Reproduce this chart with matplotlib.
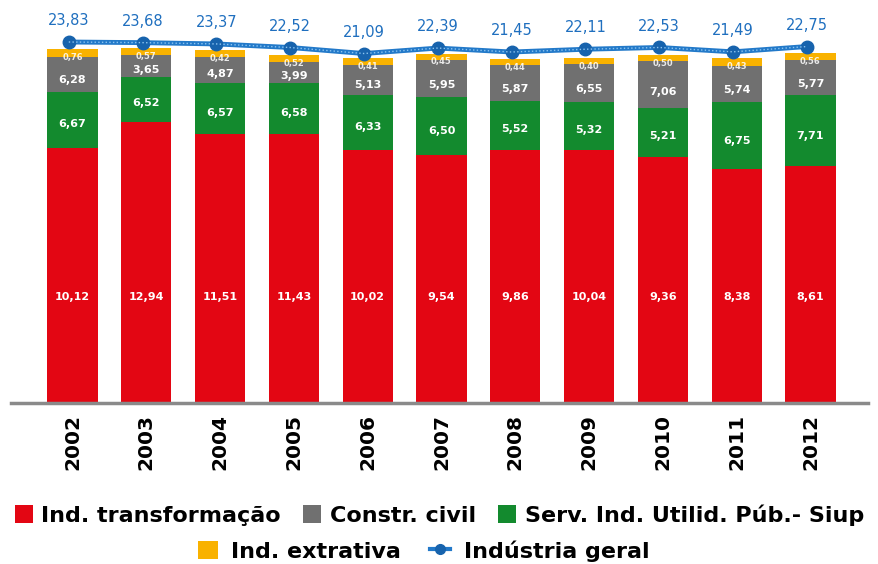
import matplotlib
matplotlib.use("Agg")
import matplotlib.pyplot as plt
from matplotlib.patches import Patch
from matplotlib.lines import Line2D
import numpy as np

plt.rcParams['font.family'] = ['DejaVu Sans']

years = ['2002', '2003', '2004', '2005', '2006', '2007', '2008', '2009', '2010', '2011', '2012']

# Values printed on the chart
transf_lbl = [10.12, 12.94, 11.51, 11.43, 10.02, 9.54, 9.86, 10.04, 9.36, 8.38, 8.61]
siup_lbl = [6.67, 6.52, 6.57, 6.58, 6.33, 6.50, 5.52, 5.32, 5.21, 6.75, 7.71]
constr_lbl = [6.28, 3.65, 4.87, 3.99, 5.13, 5.95, 5.87, 6.55, 7.06, 5.74, 5.77]
extr_lbl = [0.76, 0.57, 0.42, 0.52, 0.41, 0.45, 0.44, 0.40, 0.50, 0.43, 0.56]
geral = [23.83, 23.68, 23.37, 22.52, 21.09, 22.39, 21.45, 22.11, 22.53, 21.49, 22.75]

# Segment sizes as drawn in the picture (the source chart is not to scale)
transf_bar = [17.22, 18.97, 18.16, 18.16, 17.08, 16.75, 17.08, 17.08, 16.61, 15.80, 16.00]
siup_bar = [3.78, 3.04, 3.44, 3.44, 3.71, 3.92, 3.31, 3.24, 3.31, 4.52, 4.79]
constr_bar = [2.36, 1.49, 1.76, 1.42, 2.03, 2.50, 2.43, 2.57, 3.17, 2.43, 2.36]
extr_bar = [0.54, 0.47, 0.47, 0.47, 0.47, 0.41, 0.41, 0.41, 0.41, 0.54, 0.47]

c_red = '#e30613'
c_green = '#138a2e'
c_gray = '#707070'
c_yel = '#f9b200'
c_blue = '#2279c9'

def fmt(v):
    return f"{v:.2f}".replace('.', ',')

fig = plt.figure(figsize=(8.79, 5.64), dpi=100)
ax = fig.add_axes([11/879, 161/564, 857/879, 403/564])
x = np.arange(len(years))
w = 0.68

t = np.array(transf_bar)
s = np.array(siup_bar)
c = np.array(constr_bar)
e = np.array(extr_bar)

ax.bar(x, t, w, color=c_red, zorder=2)
ax.bar(x, s, w, bottom=t, color=c_green, zorder=2)
ax.bar(x, c, w, bottom=t + s, color=c_gray, zorder=2)
ax.bar(x, e, w, bottom=t + s + c, color=c_yel, zorder=2)

lbl_kw = dict(ha='center', va='center', color='white', fontweight='bold', fontsize=8, zorder=4)
for i in range(len(years)):
    ax.text(x[i], 7.15, fmt(transf_lbl[i]), **lbl_kw)
    ax.text(x[i], t[i] + s[i] * 0.42, fmt(siup_lbl[i]), **lbl_kw)
    ax.text(x[i], t[i] + s[i] + c[i] * 0.33, fmt(constr_lbl[i]), **lbl_kw)
    ax.text(x[i], t[i] + s[i] + c[i] + e[i] - 0.55, fmt(extr_lbl[i]), ha='center', va='center',
            color='white', fontweight='bold', fontsize=6, zorder=4, alpha=0.85)

ax.set_xlim(-0.833, 10.78)
ax.set_ylim(0, 27.21)
ax.set_yticks([])
for sp in ['top', 'right', 'left']:
    ax.spines[sp].set_visible(False)
ax.spines['bottom'].set_color('#8a8a8a')
ax.spines['bottom'].set_linewidth(2.5)
ax.set_xticks(x)
ax.set_xticklabels(years, rotation=90, fontweight='bold', fontsize=14.5)
ax.tick_params(axis='x', length=0, pad=8)

ax2 = ax.twinx()
ax2.set_ylim(-62.1, 33.83)
ax2.set_yticks([])
for sp in ax2.spines.values():
    sp.set_visible(False)
xl = x - 0.05
ax2.plot(xl, geral, color=c_blue, lw=3.5, marker='o', ms=9, mfc='#1763ad', mec='#1763ad', zorder=5)
ax2.plot(xl, geral, color='#8cc4f0', lw=1, ls=':', zorder=6)
for i in range(len(years)):
    ax2.annotate(fmt(geral[i]), (xl[i], geral[i]), xytext=(0, 10), textcoords='offset points',
                 ha='center', va='bottom', color='#1f6fbf', fontsize=10.5)

prop = {'weight': 'bold', 'size': 16}
h1 = [Patch(facecolor=c_red), Patch(facecolor=c_gray), Patch(facecolor=c_green)]
l1 = ['Ind. transformação', 'Constr. civil', 'Serv. Ind. Utilid. Púb.- Siup']
leg1 = fig.legend(h1, l1, ncol=3, loc='center', bbox_to_anchor=(0.5, 1 - 515/564), frameon=False,
                  prop=prop, handlelength=0.8, handleheight=0.9, handletextpad=0.4, columnspacing=1.0,
                  borderaxespad=0, borderpad=0)
h2 = [Patch(facecolor=c_yel),
      Line2D([0], [0], color=c_blue, lw=3, marker='o', ms=7, mfc='#1763ad', mec='#1763ad')]
l2 = ['Ind. extrativa', 'Indústria geral']
leg2 = fig.legend(h2, l2, ncol=2, loc='center', bbox_to_anchor=(0.482, 1 - 551/564), frameon=False,
                  prop=prop, handlelength=0.9, handleheight=0.9, handletextpad=0.6, columnspacing=1.3,
                  borderaxespad=0, borderpad=0)

fig.savefig('out.png', dpi=100)
